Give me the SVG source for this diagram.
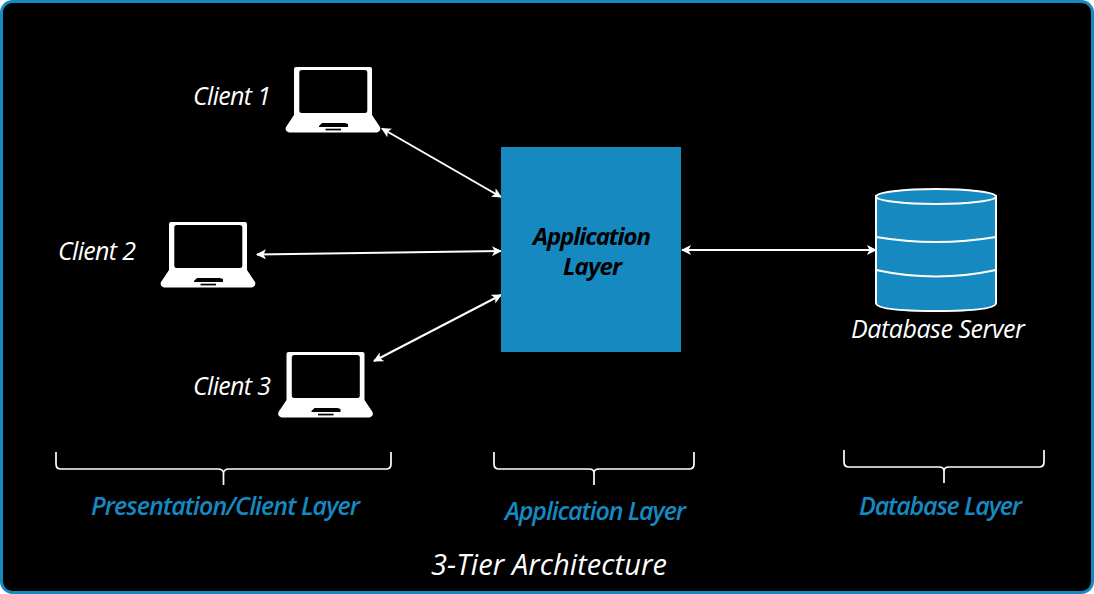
<svg xmlns="http://www.w3.org/2000/svg" width="1094" height="594" viewBox="0 0 1094 594">
<style>
text{font-family:"Open Sans","Liberation Sans",sans-serif;font-style:italic;font-weight:500}
.w{fill:#fff;font-size:25px}
.b{fill:#1689c1;font-size:25px;font-weight:600}
.c{stroke:#fff;stroke-width:2;fill:none;marker-start:url(#a);marker-end:url(#a)}
.br{stroke:#fff;stroke-width:1.700;fill:none}
.db{fill:#1689c1;stroke:#fff;stroke-width:2}
.dl{fill:none;stroke:#fff;stroke-width:2}
</style>
<defs>
<marker id="a" viewBox="0 0 10 10" refX="9" refY="5" markerWidth="10" markerHeight="10" markerUnits="userSpaceOnUse" orient="auto-start-reverse"><path d="M0 0L10 5L0 10L2.500 5Z" fill="#fff"/></marker>
<symbol id="laptop" width="97" height="68" viewBox="0 0 97 68">
<path fill="#fff" d="M11 1H85Q87 1 87 3V49L95 61Q96.500 65 92 66.500H4Q-0.500 65 1 61L9 49V3Q9 1 11 1Z"/>
<rect x="14.300" y="4" width="68" height="43" rx="2.500" fill="#000"/>
<path d="M37 57H60L63 58V61H34V60Z" fill="#000"/>
<rect x="40.500" y="62.700" width="15.500" height="1.700" fill="#000"/>
</symbol>
</defs>
<rect x="1.500" y="1.500" width="1091" height="591" rx="11" fill="#000" stroke="#1689c1" stroke-width="3"/>
<g id="connectors">
<path class="c" d="M382 128.500L501 197"/>
<path class="c" d="M257 254.500L501 251"/>
<path class="c" d="M374 361L501 295"/>
<path class="c" d="M682 250H876"/>
</g>
<g id="client1"><use href="#laptop" x="285" y="66"/><text class="w" x="193" y="105" textLength="78">Client 1</text></g>
<g id="client2"><use href="#laptop" x="160" y="221"/><text class="w" x="58" y="260" textLength="78">Client 2</text></g>
<g id="client3"><use href="#laptop" x="277.500" y="351"/><text class="w" x="193" y="395" textLength="78">Client 3</text></g>
<g id="application"><rect x="501" y="147" width="180" height="205" fill="#1689c1"/>
<text x="533" y="245" textLength="118" font-size="24" style="font-weight:700" fill="#000">Application</text>
<text x="563" y="275" textLength="59" font-size="24" style="font-weight:700" fill="#000">Layer</text></g>
<g id="database">
<path class="db" d="M876 196V303Q876 311 936 311Q996 311 996 303V196Z"/>
<ellipse class="db" cx="936" cy="196.500" rx="60" ry="7.500"/>
<path class="dl" d="M876 237Q936 247 996 237M876 270Q936 283 996 270"/>
<text class="w" x="851" y="338" textLength="174">Database Server</text></g>
<g id="presentation-layer"><path class="br" d="M56 452V464Q56 469 61 469H218Q223 469 223.500 473Q224 469 229 469H386Q391 469 391 464V452M223.500 473V485"/>
<text class="b" x="91" y="515" textLength="269">Presentation/Client Layer</text></g>
<g id="application-layer"><path class="br" d="M494 452V464Q494 469 499 469H589Q594 469 594 473Q594 469 599 469H689Q694 469 694 464V452M594 473V485"/>
<text class="b" x="505" y="520" textLength="181">Application Layer</text></g>
<g id="database-layer"><path class="br" d="M844 450V462Q844 467 849 467H939Q944 467 944 471Q944 467 949 467H1039Q1044 467 1044 462V450M944 471V483"/>
<text class="b" x="859" y="515" textLength="163">Database Layer</text></g>
<text x="431" y="575" font-size="29" textLength="236" fill="#fff">3-Tier Architecture</text>
</svg>
